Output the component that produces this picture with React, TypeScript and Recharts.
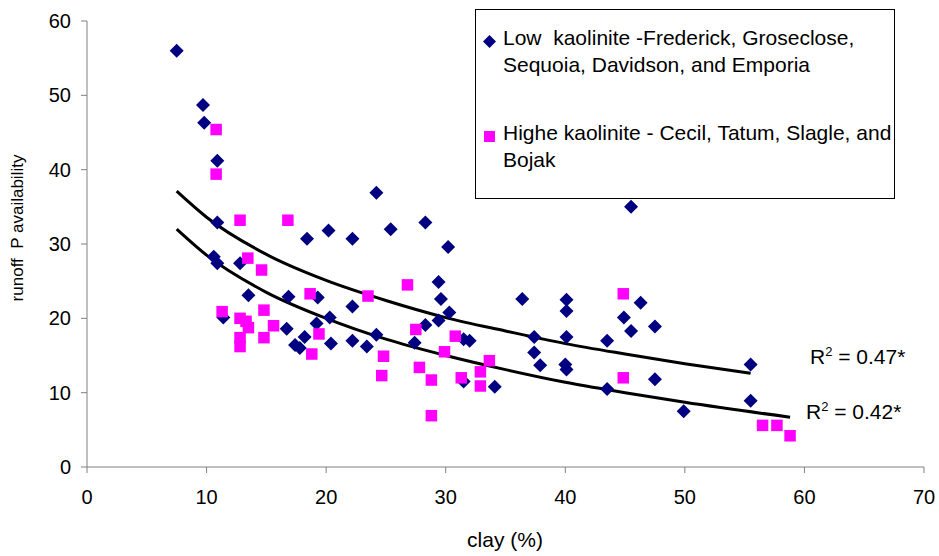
import { ComposedChart, Scatter, Line, XAxis, YAxis, Legend, Customized } from 'recharts';

// Low kaolinite soils (navy diamonds)
const lowClay = [
  7.5, 9.7, 9.8, 10.9, 10.9, 10.6, 10.9, 11.4, 12.8, 13.5, 16.85, 16.7, 17.4, 17.8, 18.2,
  18.4, 19.2, 19.3, 20.2, 20.3, 20.4, 22.2, 22.2, 22.2, 23.4, 24.2, 24.2, 25.4, 27.4, 28.3,
  28.3, 29.4, 29.6, 29.4, 30.2, 30.3, 31.5, 32.0, 31.5, 34.1, 36.4, 37.4, 37.4, 37.9, 40.1,
  40.1, 40.1, 40.0, 40.1, 43.5, 43.5, 44.9, 45.5, 45.5, 46.3, 47.5, 47.5, 49.9, 55.5, 55.5,
];
const lowP = [
  56.0, 48.7, 46.3, 41.2, 32.9, 28.3, 27.4, 20.1, 27.4, 23.1, 22.9, 18.6, 16.4, 16.0, 17.5,
  30.7, 19.3, 22.8, 31.8, 20.1, 16.6, 30.7, 21.6, 17.0, 16.2, 36.9, 17.8, 32.0, 16.7, 32.9,
  19.1, 24.9, 22.6, 19.7, 29.6, 20.8, 17.2, 17.0, 11.5, 10.8, 22.6, 17.5, 15.4, 13.7, 22.5,
  21.0, 17.5, 13.8, 13.1, 17.0, 10.5, 20.1, 18.3, 35.0, 22.1, 18.9, 11.8, 7.5, 13.8, 8.9,
];

// Higher kaolinite soils (magenta squares)
const highClay = [
  10.8, 10.8, 12.8, 16.8, 13.45, 14.6, 18.66, 11.3, 12.8, 13.3, 13.5, 14.8, 15.6, 14.8, 12.8,
  12.8, 18.8, 19.4, 26.8, 23.5, 27.5, 24.8, 24.65, 27.8, 28.8, 28.8, 29.9, 30.8, 31.3, 32.9,
  32.9, 33.65, 44.85, 44.85, 56.5, 57.7, 58.8,
];
const highP = [
  45.4, 39.4, 33.2, 33.2, 28.1, 26.5, 23.3, 20.9, 20.0, 19.6, 18.75, 21.1, 19.0, 17.4, 17.4,
  16.2, 15.2, 17.9, 24.5, 23.0, 18.5, 14.9, 12.3, 13.4, 11.7, 6.9, 15.5, 17.6, 12.0, 12.8,
  10.9, 14.3, 23.3, 12.0, 5.6, 5.6, 4.2,
];

// Trend lines
const lowTrendClay = [7.5, 10, 15, 20, 25, 30, 35, 40, 45, 50, 55.5];
const lowTrendP = [37.1, 33.6, 28.6, 25.1, 22.4, 20.1, 18.3, 16.6, 15.2, 13.9, 12.6];
const highTrendClay = [7.5, 10, 15, 20, 25, 30, 35, 40, 45, 50, 58.8];
const highTrendP = [32.0, 28.5, 23.5, 20.0, 17.2, 15.0, 13.1, 11.4, 10.0, 8.7, 6.7];

const xTicks = [0, 10, 20, 30, 40, 50, 60, 70];
const yTicks = [0, 10, 20, 30, 40, 50, 60];

const lowLabel = ['Low  kaolinite -Frederick, Groseclose,', 'Sequoia, Davidson, and Emporia'];
const highLabel = ['Highe kaolinite - Cecil, Tatum, Slagle, and', 'Bojak'];

const zip = (xs: number[], ys: number[]) => xs.map((x, i) => ({ x, y: ys[i] }));

const FONT = '"Liberation Sans", Arial, sans-serif';
const NAVY = '#000080';
const MAGENTA = '#FF00FF';
const AXIS = '#808080';

function Diamond(props: any) {
  const { cx, cy } = props;
  const r = 7;
  return <polygon points={`${cx},${cy - r} ${cx + r},${cy} ${cx},${cy + r} ${cx - r},${cy}`} fill={NAVY} />;
}

function Square(props: any) {
  const { cx, cy } = props;
  const s = 11.5;
  return <rect x={cx - s / 2} y={cy - s / 2} width={s} height={s} fill={MAGENTA} />;
}

function LegendBox() {
  const entry = (lines: string[], marker: JSX.Element, marginTop: number) => (
    <div style={{ position: 'relative', paddingLeft: 27, marginTop }}>
      <div style={{ position: 'absolute', left: 6, top: 6 }}>{marker}</div>
      {lines.map((l) => (
        <div key={l} style={{ whiteSpace: 'pre', lineHeight: '27px' }}>{l}</div>
      ))}
    </div>
  );
  return (
    <div
      style={{
        width: 420,
        height: 190,
        boxSizing: 'border-box',
        border: '1px solid #000',
        background: '#fff',
        fontFamily: FONT,
        fontSize: 21,
        color: '#000',
        paddingTop: 14,
      }}
    >
      {entry(lowLabel, <svg width={15} height={15}><polygon points="7.5,1 14,7.5 7.5,14 1,7.5" fill={NAVY} /></svg>, 0)}
      {entry(highLabel, <svg width={15} height={15}><rect x={2} y={2} width={11} height={11} fill={MAGENTA} /></svg>, 41)}
    </div>
  );
}

function Annotations() {
  return (
    <g fontFamily={FONT} fill="#000">
      <text x={505} y={547} fontSize={21} textAnchor="middle">clay (%)</text>
      <text
        x={17}
        y={228}
        fontSize={17}
        textAnchor="middle"
        dominantBaseline="central"
        transform="rotate(-90 17 228)"
        style={{ whiteSpace: 'pre' }}
      >
        {'runoff  P availability'}
      </text>
      <text x={810} y={364} fontSize={21}>
        R<tspan dy={-8} fontSize={13}>2</tspan><tspan dy={8}> = 0.47*</tspan>
      </text>
      <text x={806} y={419} fontSize={21}>
        R<tspan dy={-8} fontSize={13}>2</tspan><tspan dy={8}> = 0.42*</tspan>
      </text>
    </g>
  );
}

export default function App() {
  const tick = { fontSize: 20, fill: '#000', fontFamily: FONT };
  return (
    <div style={{ position: 'absolute', left: 0, top: 0, width: 939, height: 556, background: '#fff' }}>
      <ComposedChart width={939} height={556} margin={{ top: 21, right: 15, bottom: 29, left: 27 }}>
        <XAxis
          type="number"
          dataKey="x"
          domain={[0, 70]}
          ticks={xTicks}
          interval={0}
          height={60}
          stroke={AXIS}
          tickSize={6}
          tickMargin={17}
          tick={tick}
          allowDataOverflow
        />
        <YAxis
          type="number"
          dataKey="y"
          domain={[0, 60]}
          ticks={yTicks}
          interval={0}
          width={60}
          stroke={AXIS}
          tickSize={6}
          tickMargin={10}
          tick={tick}
        />
        <Scatter name="low" data={zip(lowClay, lowP)} shape={Diamond} isAnimationActive={false} />
        <Scatter name="high" data={zip(highClay, highP)} shape={Square} isAnimationActive={false} />
        <Line
          data={zip(lowTrendClay, lowTrendP)}
          dataKey="y"
          type="monotone"
          stroke="#000"
          strokeWidth={3}
          dot={false}
          activeDot={false}
          isAnimationActive={false}
        />
        <Line
          data={zip(highTrendClay, highTrendP)}
          dataKey="y"
          type="monotone"
          stroke="#000"
          strokeWidth={3}
          dot={false}
          activeDot={false}
          isAnimationActive={false}
        />
        <Legend
          layout="vertical"
          align="center"
          verticalAlign="middle"
          content={() => <LegendBox />}
          wrapperStyle={{ position: 'absolute', left: 475, top: 9, width: 420, height: 190 }}
        />
        <Customized component={Annotations} />
      </ComposedChart>
    </div>
  );
}
